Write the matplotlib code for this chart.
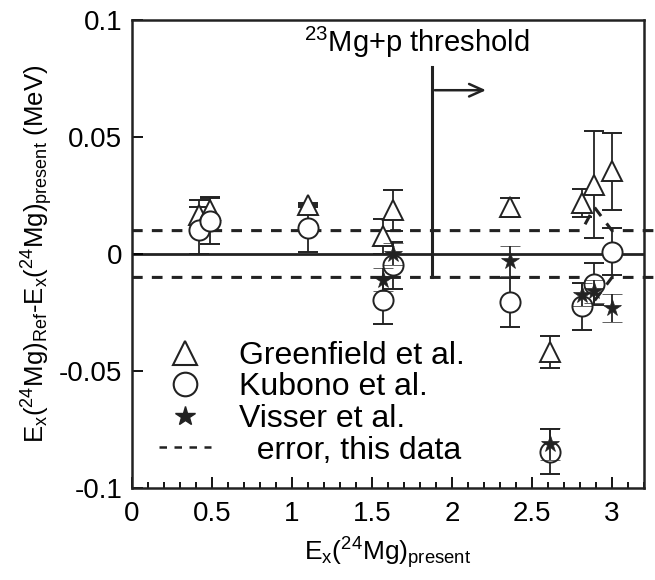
import matplotlib
matplotlib.use('Agg')
import matplotlib.pyplot as plt
from matplotlib.lines import Line2D
import numpy as np

plt.rcParams['font.family'] = ['Liberation Sans', 'DejaVu Sans']
plt.rcParams['mathtext.default'] = 'regular'

# Greenfield et al.
g_x = [0.417, 0.485, 1.10, 1.57, 1.63, 2.36, 2.61, 2.81, 2.89, 3.00]
g_y = [0.0167, 0.0189, 0.0210, 0.0075, 0.0186, 0.0200, -0.0419, 0.0219, 0.0297, 0.0354]
g_err = [0.0064, 0.0050, 0.0010, 0.0075, 0.0086, 0.0040, 0.0070, 0.0060, 0.0230, 0.0165]

# Kubono et al.
k_x = [0.417, 0.485, 1.10, 1.57, 1.63, 2.36, 2.61, 2.81, 2.89, 3.00]
k_y = [0.0101, 0.0143, 0.0110, -0.0197, -0.0049, -0.0207, -0.0844, -0.0224, -0.0129, 0.0010]
k_err = [0.0100, 0.0100, 0.0100, 0.0100, 0.0100, 0.0105, 0.0095, 0.0100, 0.0090, 0.0100]

# Visser et al.
v_x = [1.57, 1.63, 2.36, 2.61, 2.81, 2.89, 3.00]
v_y = [-0.0110, 0.0000, -0.0030, -0.0812, -0.0174, -0.0160, -0.0230]
v_err = [0.0050, 0.0048, 0.0065, 0.0070, 0.0050, 0.0050, 0.0060]

# error band of this data
e_x = [0.0, 2.81, 2.89, 3.00, 3.42]
e_hi = [0.01, 0.01, 0.02, 0.01, 0.01]
e_lo = [-0.01, -0.01, -0.02, -0.01, -0.01]

thr_x = 1.875

fig = plt.figure(figsize=(6.55, 5.8), dpi=100)
ax = fig.add_axes([0.2015, 0.1586, 0.7817, 0.8069])

ax.axhline(0, color='#222222', lw=2.0, zorder=1)
ax.plot(e_x, e_hi, color='#222222', lw=2.2, ls=(0, (3.5, 3)), clip_on=False, zorder=1)
ax.plot(e_x, e_lo, color='#222222', lw=2.2, ls=(0, (3.5, 3)), clip_on=False, zorder=1)

ekw = dict(ecolor='#222222', elinewidth=1.3, capsize=7, capthick=1.3, ls='none')
ax.errorbar(g_x, g_y, yerr=g_err, marker='^', ms=15, mfc='white', mec='#222222', mew=1.4, zorder=3, **ekw)
ax.errorbar(k_x, k_y, yerr=k_err, marker='o', ms=14.5, mfc='white', mec='#222222', mew=1.4, zorder=3, **ekw)
ax.errorbar(v_x, v_y, yerr=v_err, marker='*', ms=13, mfc='#222222', mec='#222222', mew=0.5, zorder=4, **ekw)

# threshold marker
ax.plot([thr_x, thr_x], [-0.01, 0.08], color='#222222', lw=2.2, zorder=2)
ax.annotate('', xy=(2.23, 0.07), xytext=(thr_x, 0.07),
            arrowprops=dict(arrowstyle='->,head_length=1.0,head_width=0.45', color='#222222', lw=1.8))
ax.text(1.78, 0.083, r'$^{23}$Mg+p threshold', ha='center', va='bottom', fontsize=21)

ax.set_xlim(0, 3.2)
ax.set_ylim(-0.1, 0.1)
ax.set_xticks([0, 0.5, 1, 1.5, 2, 2.5, 3])
ax.set_xticklabels(['0', '0.5', '1', '1.5', '2', '2.5', '3'])
ax.set_xticks(np.arange(0, 3.21, 0.1), minor=True)
ax.set_yticks([-0.1, -0.05, 0, 0.05, 0.1])
ax.set_yticklabels(['-0.1', '-0.05', '0', '0.05', '0.1'])
ax.tick_params(axis='both', which='both', direction='in', labelsize=20, width=1.3, top=False, right=False)
ax.tick_params(axis='both', which='major', length=8, pad=7)
ax.tick_params(axis='x', which='major', pad=9)
ax.tick_params(axis='x', which='minor', length=4)
for s in ax.spines.values():
    s.set_linewidth(1.8)
    s.set_color('#222222')

ax.set_xlabel(r'E$_x$($^{24}$Mg)$_{present}$', fontsize=19, labelpad=6)
ax.set_ylabel(r'E$_x$($^{24}$Mg)$_{Ref}$-E$_x$($^{24}$Mg)$_{present}$ (MeV)', fontsize=18.5, labelpad=3)

handles = [
    Line2D([], [], marker='^', ls='none', ms=17, mfc='white', mec='#222222', mew=1.5),
    Line2D([], [], marker='o', ls='none', ms=17, mfc='white', mec='#222222', mew=1.5),
    Line2D([], [], marker='*', ls='none', ms=15, mfc='#222222', mec='#222222'),
    Line2D([], [], color='#222222', lw=1.8, ls=(0, (3, 3))),
]
labels = ['Greenfield et al.', 'Kubono et al.', 'Visser et al.', '  error, this data']
ax.legend(handles, labels, loc='lower left', bbox_to_anchor=(0.01, 0.0), frameon=False,
          fontsize=23, handlelength=1.6, handletextpad=0.9, labelspacing=0.05, borderpad=0.2)

plt.savefig('out.png', dpi=100)
plt.close()
